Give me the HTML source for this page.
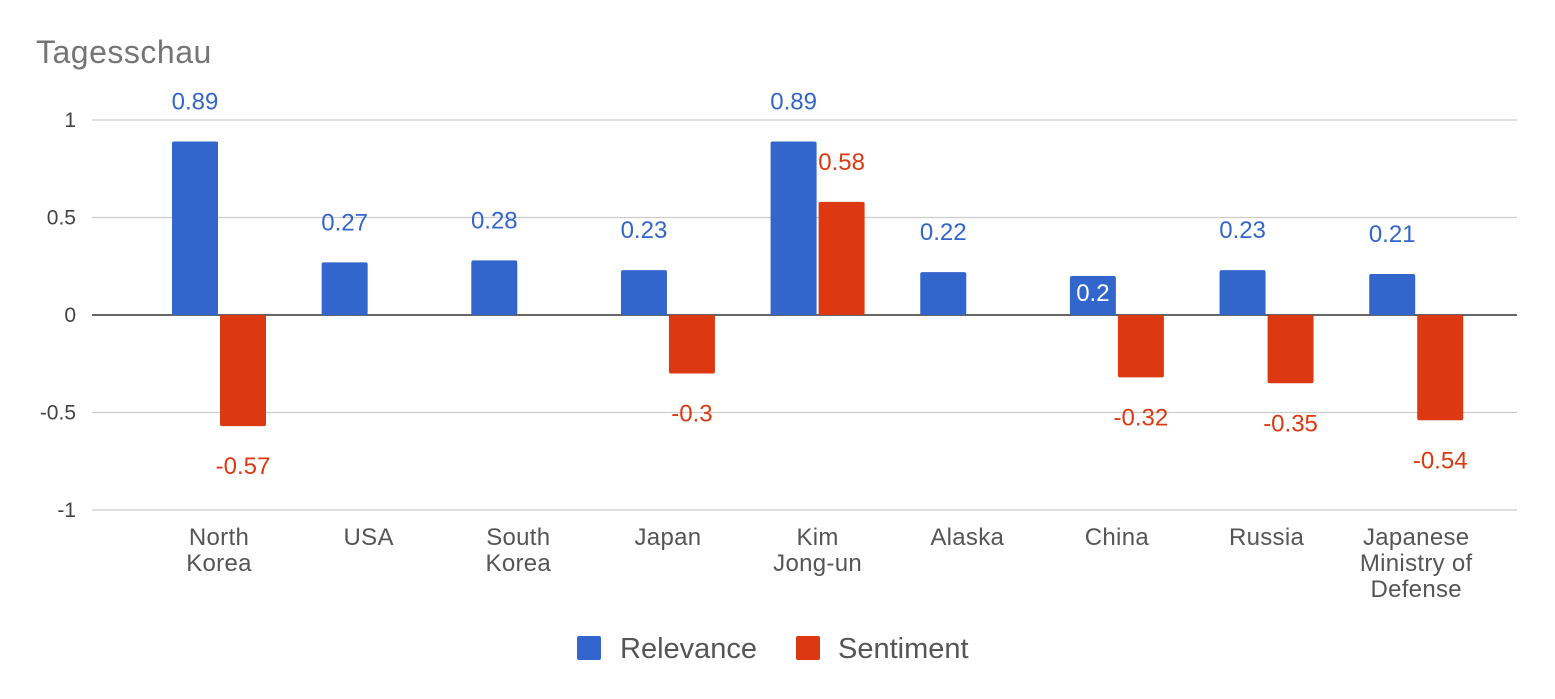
<!DOCTYPE html>
<html><head><meta charset="utf-8"><style>
body{margin:0;background:#fff;}
svg{display:block;font-family:"Liberation Sans",Arial,sans-serif;}
</style></head><body>
<svg id="chart" width="1555" height="699"></svg>
<script>
const categories=[["North","Korea"],["USA"],["South","Korea"],["Japan"],["Kim","Jong-un"],["Alaska"],["China"],["Russia"],["Japanese","Ministry of","Defense"]];
const relevance=[0.89,0.27,0.28,0.23,0.89,0.22,0.2,0.23,0.21];
const sentiment=[-0.57,null,null,-0.3,0.58,null,-0.32,-0.35,-0.54];
const yTicks=[1,0.5,0,-0.5,-1];
const yTickLabels=["1","0.5","0","-0.5","-1"];

const NS="http://www.w3.org/2000/svg";
const svg=document.getElementById('chart');
const y=v=>315-v*195;
const cx=i=>219+i*149.65;
function mk(tag,attrs,text){const e=document.createElementNS(NS,tag);for(const k in attrs)e.setAttribute(k,attrs[k]);if(text!==undefined)e.textContent=text;svg.appendChild(e);return e;}

let t=mk('text',{x:36,y:63,'font-size':32,fill:'#757575','letter-spacing':0.5},'Tagesschau');



yTicks.forEach((v,k)=>{
  const l=mk('line',{x1:92,x2:1517,y1:y(v),y2:y(v),stroke:v===0?'#333':'#ccc','stroke-width':v===0?1.5:1.2});
  
  
  const tl=mk('text',{x:76,y:y(v)+7,'text-anchor':'end','font-size':21,fill:'#444'},yTickLabels[k]);
  
  
});

categories.forEach((lines,i)=>{
  const c=cx(i);
  const rv=relevance[i];
  const b=mk('rect',{x:c-47,y:Math.min(y(rv),y(0)),width:46,height:Math.abs(y(rv)-y(0)),fill:'#3366cc',rx:2});
  
  
  const inside=rv<=0.2;
  const bl=mk('text',{x:c-24,y:inside?y(rv)+25:y(rv)-32,'text-anchor':'middle','font-size':24,fill:inside?'#fff':'#3366cc'},String(rv));
  
  
  const sv=sentiment[i];
  if(sv!==null){
    const r=mk('rect',{x:c+1,y:Math.min(y(sv),y(0)),width:46,height:Math.abs(y(sv)-y(0)),fill:'#dc3912',rx:2});
    
    
    const ly=sv<0?y(sv)+48:y(sv)-32;
    const sl=mk('text',{x:c+24,y:ly,'text-anchor':'middle','font-size':24,fill:'#dc3912'},String(sv));
    
    
  }
  lines.forEach((ln,j)=>{
    const xl=mk('text',{x:c,y:545+j*26,'text-anchor':'middle','font-size':24,fill:'#555','letter-spacing':0.3},ln);
    
    
  });
});

let s1=mk('rect',{x:577,y:636,width:24,height:24,fill:'#3366cc',rx:2});


let l1=mk('text',{x:620,y:658,'font-size':29,fill:'#555'},'Relevance');


let s2=mk('rect',{x:796,y:636,width:24,height:24,fill:'#dc3912',rx:2});


let l2=mk('text',{x:838,y:658,'font-size':29,fill:'#555'},'Sentiment');


</script>
</body></html>
